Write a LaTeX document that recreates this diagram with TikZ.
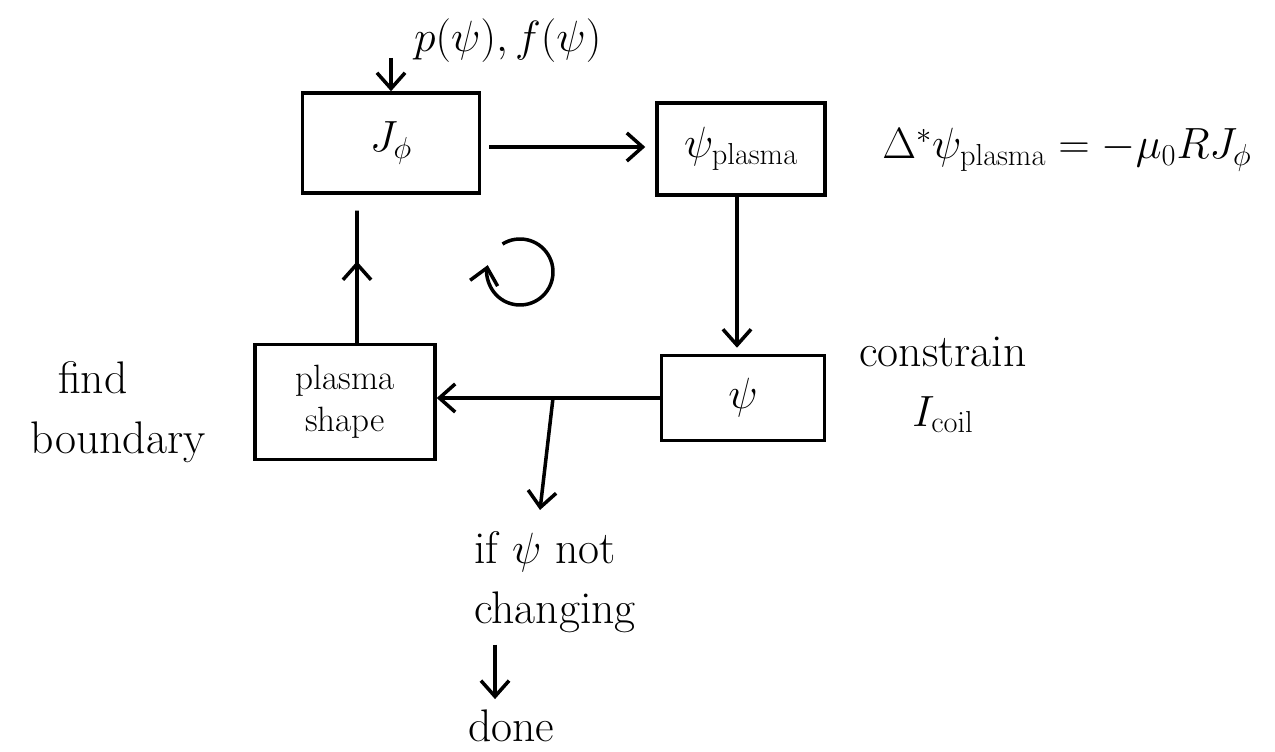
\documentclass[tikz,border=0pt]{standalone}
\usepackage{amsmath}
\usepackage{tikz}
\usetikzlibrary{arrows.meta,positioning,calc}

\tikzset{
  hand/.style={font=\fontsize{26}{34}\selectfont},
  blockbox/.style={draw, line width=2pt, rectangle, hand, inner sep=0pt},
  flow/.style={line width=2pt, -{Straight Barb[length=9pt,width=16pt]}},
}

\begin{document}
\begin{tikzpicture}[x=0.02cm,y=0.02cm]
    \useasboundingbox (0,0) rectangle (1275,751);

    % blocks
    \node[blockbox, minimum width=3.54cm, minimum height=2cm] (jphi) at (391,608) {$J_\phi$};
    \node[blockbox, minimum width=3.36cm, minimum height=1.84cm] (psiplasma) at (741,602) {$\psi_{\mathrm{plasma}}$};
    \node[blockbox, minimum width=3.26cm, minimum height=1.7cm] (psi) at (743,353) {$\psi$};
    \node[blockbox, minimum width=3.6cm, minimum height=2.3cm, font=\fontsize{20}{24}\selectfont, align=center] (shape) at (345,349) {plasma\\shape};

    % labels
    \node[hand, anchor=west] (profiles) at (408,710) {$p(\psi), f(\psi)$};
    \node[hand] (gs) at (1067,601) {$\Delta^{*}\psi_{\mathrm{plasma}} = -\mu_0 R J_\phi$};
    \node[hand, align=center] (coil) at (943,366) {constrain\\$I_{\mathrm{coil}}$};
    \node[hand, align=left] (bound) at (118,339) {\ \ find\\boundary};
    \node[hand, align=left, anchor=north west] (ifnot) at (468,226) {if $\psi$ not\\changing};
    \node[hand, anchor=base west] (done) at (462,10) {done};

    \coordinate (in) at (391,693);
    \coordinate (mid) at (0,604);
    \coordinate (down) at (737,0);
    \coordinate (up) at (357,0);
    \coordinate (br) at (553,0);
    \coordinate (brend) at (540,241);
    \coordinate (stop) at (495,0);

    % connectors
    \draw[flow] (in) -- (jphi.north);
    \draw[flow] ($(jphi.east |- mid)+(8,0)$) -- ($(psiplasma.west |- mid)+(-10,0)$);
    \draw[flow] (psiplasma.south -| down) -- ($(psi.north -| down)+(0,6)$);
    \draw[flow] (psi.west) -- (shape.east |- psi.west);
    \draw[flow] (shape.north -| up) -- ($(shape.north -| up)!0.55!(jphi.south -| up)$);
    \draw[line width=2pt] ($(shape.north -| up)!0.5!(jphi.south -| up)$) -- ($(jphi.south -| up)+(0,-16)$);
    \draw[flow] (psi.west -| br) -- (brend);
    \draw[flow] ($(ifnot.south -| stop)+(0,-6)$) -- ($(done.north -| stop)+(0,4)$);

    % iteration symbol
    \draw[flow] (520,479) ++(122:33) arc[start angle=122, end angle=-192, radius=33];
\end{tikzpicture}
\end{document}
